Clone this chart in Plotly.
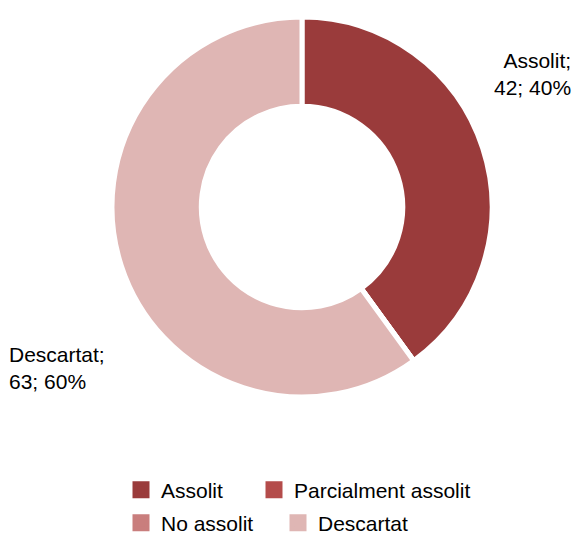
import plotly.graph_objects as go

labels = ["Assolit", "Parcialment assolit", "No assolit", "Descartat"]
values = [42, 0, 0, 63]
colors = ["#9a3b3b", "#b44c4b", "#c97e7d", "#dfb6b4"]

FONT = "Liberation Sans, Arial, sans-serif"
FS = 21
total = sum(values)

fig = go.Figure()

# legend-only pies (one per entry, tiny and hidden under the donut ring)
legend_ids = ["legend", "legend2", "legend3", "legend4"]
for lab, col, lid in zip(labels, colors, legend_ids):
    fig.add_trace(go.Pie(labels=[lab], marker=dict(colors=[col], line=dict(color=col, width=5)),
                         sort=False, textinfo="none", hoverinfo="skip", legend=lid,
                         domain=dict(x=[0.08, 0.0801], y=[0.5, 0.5001])))

# main donut
fig.add_trace(go.Pie(labels=labels, values=values, marker=dict(colors=colors, line=dict(color="white", width=5)),
                     hole=0.53, sort=False, direction="clockwise", rotation=0,
                     textinfo="none", showlegend=False, domain=dict(x=[0, 1], y=[0, 1])))

# data labels
ann_pos = {"Assolit": dict(x=1.213, y=0.922, xanchor="right", align="right"),
           "Descartat": dict(x=-0.276, y=0.148, xanchor="left", align="left")}
for lab, val in zip(labels, values):
    if val > 0:
        p = ann_pos[lab]
        fig.add_annotation(text=f"{lab};<br>{val}; {round(100*val/total)}%", xref="paper", yref="paper",
                           x=p["x"], y=p["y"], xanchor=p["xanchor"], yanchor="top", align=p["align"],
                           showarrow=False, font=dict(family=FONT, size=FS, color="#000000"))

leg_common = dict(orientation="h", xref="container", yref="container", xanchor="left", yanchor="middle",
                  font=dict(family=FONT, size=FS, color="#000000"), bgcolor="rgba(0,0,0,0)")
fig.update_layout(
    width=576, height=535,
    margin=dict(l=112, r=84, t=17, b=138),
    paper_bgcolor="white", plot_bgcolor="white",
    font=dict(family=FONT, size=FS, color="#000000"),
    legend=dict(x=121/576, y=1 - 490/535, **leg_common),
    legend2=dict(x=254/576, y=1 - 490/535, **leg_common),
    legend3=dict(x=121/576, y=1 - 523/535, **leg_common),
    legend4=dict(x=278/576, y=1 - 523/535, **leg_common),
)

fig.write_html("out.html", post_script="document.body.style.margin='0';document.body.style.overflow='hidden';",
               config={"displayModeBar": False})
